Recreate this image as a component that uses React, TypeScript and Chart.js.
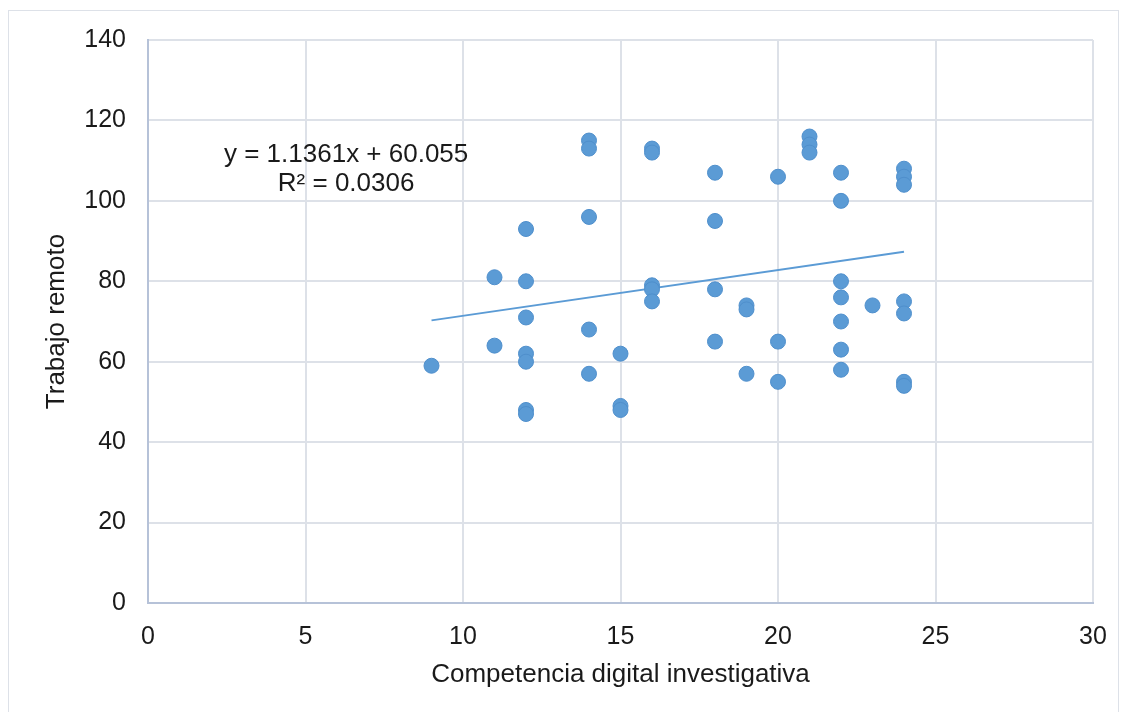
import React, { useEffect, useRef } from "react";
import { Chart, registerables } from "chart.js";

Chart.register(...registerables);

const xValues = [
  9,
  11, 11,
  12, 12, 12, 12, 12, 12, 12,
  14, 14, 14, 14, 14,
  15, 15, 15,
  16, 16, 16, 16, 16,
  18, 18, 18, 18,
  19, 19, 19,
  20, 20, 20,
  21, 21, 21,
  22, 22, 22, 22, 22, 22, 22,
  23,
  24, 24, 24, 24, 24, 24, 24,
];
const yValues = [
  59,
  81, 64,
  93, 80, 71, 62, 60, 48, 47,
  115, 113, 96, 68, 57,
  62, 49, 48,
  113, 112, 79, 78, 75,
  107, 95, 78, 65,
  74, 73, 57,
  106, 65, 55,
  116, 114, 112,
  107, 100, 80, 76, 70, 63, 58,
  74,
  108, 106, 104, 75, 72, 55, 54,
];

const trendX = [9, 24];
const trendY = [70.28, 87.32];

const equationLines = ["y = 1.1361x + 60.055", "R² = 0.0306"];
const xTitle = "Competencia digital investigativa";
const yTitle = "Trabajo remoto";

const FONT = "'Liberation Sans', Arial, sans-serif";
const BLUE = "#5b9bd5";

export default function App() {
  const ref = useRef<HTMLCanvasElement | null>(null);

  useEffect(() => {
    document.body.style.margin = "0";
    document.body.style.overflow = "hidden";
    const canvas = ref.current;
    if (!canvas) return;

    const equationPlugin = {
      id: "equation",
      afterDatasetsDraw(chart: any) {
        const { ctx, scales } = chart;
        const cx = scales.x.getPixelForValue(6.29);
        const cy = scales.y.getPixelForValue(111.4);
        ctx.save();
        ctx.fillStyle = "#1a1a1a";
        ctx.font = `26px ${FONT}`;
        ctx.textAlign = "center";
        ctx.textBaseline = "middle";
        ctx.fillText(equationLines[0], cx, cy);
        ctx.fillText(equationLines[1], cx, cy + 29);
        ctx.restore();
      },
    };

    const chart = new Chart(canvas, {
      type: "scatter",
      data: {
        datasets: [
          {
            type: "line",
            data: trendX.map((x, i) => ({ x, y: trendY[i] })),
            borderColor: BLUE,
            borderWidth: 2,
            pointRadius: 0,
            fill: false,
            order: 2,
          } as any,
          {
            data: xValues.map((x, i) => ({ x, y: yValues[i] })),
            backgroundColor: BLUE,
            borderColor: "#4f8fcc",
            borderWidth: 1,
            pointRadius: 7.5,
            order: 1,
          },
        ],
      },
      options: {
        animation: false,
        responsive: false,
        maintainAspectRatio: false,
        layout: { padding: { top: 40, right: 33, bottom: 0, left: 0 } },
        plugins: {
          legend: { display: false },
          tooltip: { enabled: false },
        },
        scales: {
          x: {
            type: "linear",
            min: 0,
            max: 30,
            ticks: {
              stepSize: 5,
              color: "#1a1a1a",
              font: { family: FONT, size: 25 },
              padding: 19,
            },
            grid: { color: "#dde1e8", lineWidth: 2, drawTicks: false },
            border: { color: "#b6c2d8", width: 2 },
            title: {
              display: true,
              text: xTitle,
              color: "#1a1a1a",
              font: { family: FONT, size: 26 },
              padding: { top: 0, bottom: 22 },
            },
            afterFit(scale: any) {
              scale.height = 109;
            },
          },
          y: {
            type: "linear",
            min: 0,
            max: 140,
            ticks: {
              stepSize: 20,
              color: "#1a1a1a",
              font: { family: FONT, size: 25 },
              padding: 22,
            },
            grid: { color: "#dde1e8", lineWidth: 2, drawTicks: false },
            border: { color: "#b6c2d8", width: 2 },
            title: {
              display: true,
              text: yTitle,
              color: "#1a1a1a",
              font: { family: FONT, size: 26 },
              padding: { top: 41, bottom: 0 },
            },
            afterFit(scale: any) {
              scale.width = 148;
            },
          },
        },
      },
      plugins: [equationPlugin],
    });

    return () => chart.destroy();
  }, []);

  return (
    <div style={{ position: "fixed", left: 0, top: 0, width: 1126, height: 712, background: "#fff" }}>
      <div
        style={{
          position: "absolute",
          left: 8,
          top: 10,
          width: 1109,
          height: 720,
          border: "1px solid #dde1e8",
        }}
      />
      <canvas
        ref={ref}
        width={1126}
        height={712}
        style={{ position: "absolute", left: 0, top: 0, width: 1126, height: 712 }}
      />
    </div>
  );
}
